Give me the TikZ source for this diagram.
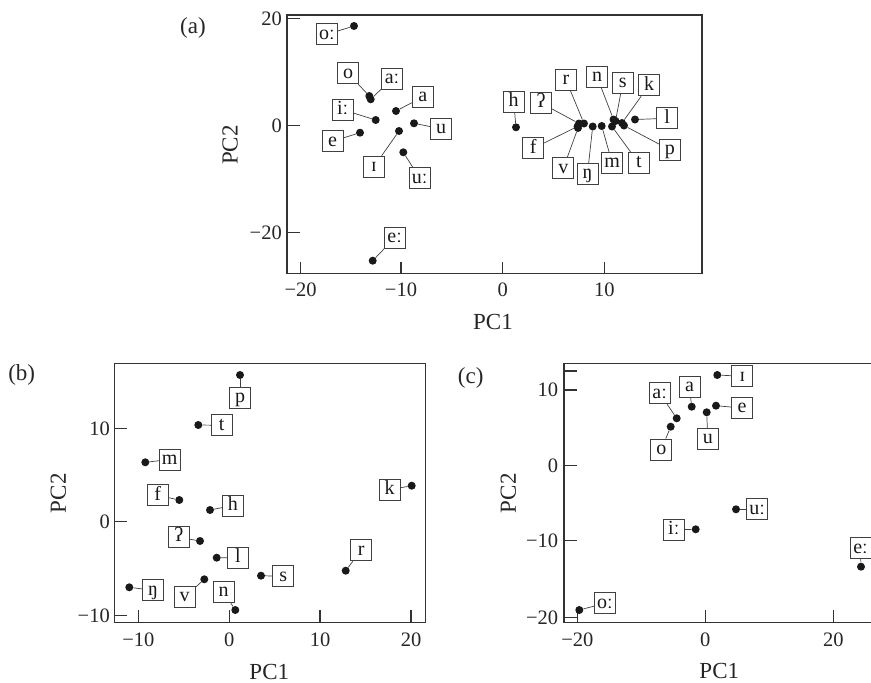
\documentclass[tikz,border=0pt]{standalone}
\usepackage{fontspec}
\setmainfont{Liberation Serif}
\usetikzlibrary{positioning}

\begin{document}
\begin{tikzpicture}[x=1pt,y=-1pt,
    data node/.style={circle,fill=black!90,inner sep=0pt,minimum size=8pt},
    label node/.style={draw=black!75,line width=0.8pt,fill=white,inner sep=1.5pt,
      minimum width=21pt,minimum height=21pt,text height=13.5pt,text depth=4pt,
      text=black!90,font=\fontsize{20}{22}\selectfont},
    lead/.style={draw=black!75,line width=0.7pt},
    frame/.style={draw=black!80,line width=1.1pt},
    tick label/.style={inner sep=0pt,text=black!85,font=\fontsize{20.5}{22}\selectfont},
    axis label/.style={inner sep=0pt,text=black!85,font=\fontsize{23}{25}\selectfont}]

  \useasboundingbox (0,0) rectangle (871,683);
  \clip (0,0) rectangle (871,683);

  % (a) all phonemes
  \draw[frame] (287,15) rectangle (702,273.5);
  \foreach \x/\t [count=\i] in {300.7/−20,401/−10,502.7/0,604.3/10} {
    \draw[frame] (\x,273.5) -- ++(0,-12);
    \node[tick label] (ax\i) at (\x,290) {\t};
  }
  \foreach \y/\t [count=\i] in {18.7/20,125.7/0,232.7/−20} {
    \draw[frame] (287,\y) -- ++(13,0);
    \node[tick label,anchor=east] (ay\i) at (282,\y) {\t};
  }
  \node[axis label] (a-x) at (493,322) {PC1};
  \node[axis label,rotate=90] (a-y) at (230,145) {PC2};
  \node[axis label] (a-tag) at (193,28) {(a)};

  \foreach \n/\dx/\dy/\lx/\ly/\t in {
      oL/354/26/327/34.3/oː, o/369.3/96/348/73.3/o, aL/370.7/99.3/392/78.7/aː,
      a/396/111/422.7/97/a, iL/375.7/120/342.7/109.7/iː, u/414/123.3/441/128.8/u,
      e/360/132.7/332.5/141.3/e, I/399/131/374/166.7/ɪ, uL/403.3/152.3/419.7/178.3/uː,
      eL/372.7/260.7/394.7/237.8/eː,
      h/516/127.3/513.7/101.7/h, q/579/123.5/541/103/ʔ, r/584/123.5/566/80/r,
      n/613.5/119.5/597/76.7/n, s/615.5/121/622.7/83/s, k/622/123/649/85.3/k,
      l/635/119.5/667.2/118.3/l, p/624/125.5/669.8/149.8/p, t/612/126.5/638.8/163.2/t,
      m/601.7/126/612.2/163/m, ng/592.7/126.5/587.5/173.7/ŋ, v/578/128/563.3/168.3/v,
      f/577.5/126.5/533.3/148.3/f} {
    \node[data node] (a-\n) at (\dx,\dy) {};
    \node[label node] (a-\n-l) at (\lx,\ly) {\t};
    \draw[lead] (a-\n) -- (a-\n-l);
  }

  % (b) consonants
  \draw[frame] (114.3,363.3) rectangle (425.7,622.7);
  \foreach \x/\t [count=\i] in {138.3/−10,229.3/0,320/10,411/20} {
    \draw[frame] (\x,622.7) -- ++(0,-13);
    \node[tick label] (bx\i) at (\x,640) {\t};
  }
  \foreach \y/\t [count=\i] in {428.3/10,521.7/0,615.7/−10} {
    \draw[frame] (114.3,\y) -- ++(13,0);
    \node[tick label,anchor=east] (by\i) at (110,\y) {\t};
  }
  \node[axis label] (b-x) at (269.3,671.7) {PC1};
  \node[axis label,rotate=90] (b-y) at (58.3,493.3) {PC2};
  \node[axis label] (b-tag) at (21.7,375) {(b)};

  \foreach \n/\dx/\dy/\lx/\ly/\t in {
      p/240/375/240/397.5/p, t/198.3/425/221.7/425.3/t, m/145.3/462.3/169.7/459.5/m,
      f/179.3/500/157.8/495.3/f, h/210/510/232.8/505.5/h, k/411.7/485.7/389.7/489.7/k,
      q/200/541/178.7/537.2/ʔ, l/216.7/557.7/238/557.8/l, r/345.7/570.7/361.2/550.3/r,
      s/261/575.7/283.3/576.3/s, ng/129.3/587.3/153/590.3/ŋ, v/204.3/579.3/184.7/597/v,
      n/235.3/610/223.7/592.2/n} {
    \node[data node] (b-\n) at (\dx,\dy) {};
    \node[label node] (b-\n-l) at (\lx,\ly) {\t};
    \draw[lead] (b-\n) -- (b-\n-l);
  }

  % (c) vowels
  \draw[frame] (890,363.3) -- (564,363.3) -- (564,622.7) -- (890,622.7);
  \foreach \x/\t [count=\i] in {577.3/−20,705.3/0,833.3/20} {
    \draw[frame] (\x,622.7) -- ++(0,-13);
    \node[tick label] (cx\i) at (\x,640) {\t};
  }
  \draw[frame] (564,371) -- ++(13,0);
  \foreach \y/\t [count=\i] in {390/10,465.7/0,540.7/−10,617.7/−20} {
    \draw[frame] (564,\y) -- ++(13,0);
    \node[tick label,anchor=east] (cy\i) at (558.3,\y) {\t};
  }
  \node[axis label] (c-x) at (719.3,670.7) {PC1};
  \node[axis label,rotate=90] (c-y) at (508.3,493.3) {PC2};
  \node[axis label] (c-tag) at (470.7,378.3) {(c)};

  \foreach \n/\dx/\dy/\lx/\ly/\t in {
      I/717.3/375/742.3/376.3/ɪ, a/691.7/406.7/689.5/387.2/a, aL/676.7/418.3/659.7/393.3/aː,
      e/716/405.7/742/408/e, u/706.7/412.3/707.8/438.8/u, o/670.7/426.7/661.3/449.5/o,
      uL/736/509.3/757.2/509.3/uː, iL/695.7/529.3/673.8/529.7/iː,
      eL/861/566.7/860.5/548.3/eː, oL/579.3/610/604.8/603.3/oː} {
    \node[data node] (c-\n) at (\dx,\dy) {};
    \node[label node] (c-\n-l) at (\lx,\ly) {\t};
    \draw[lead] (c-\n) -- (c-\n-l);
  }
\end{tikzpicture}
\end{document}
